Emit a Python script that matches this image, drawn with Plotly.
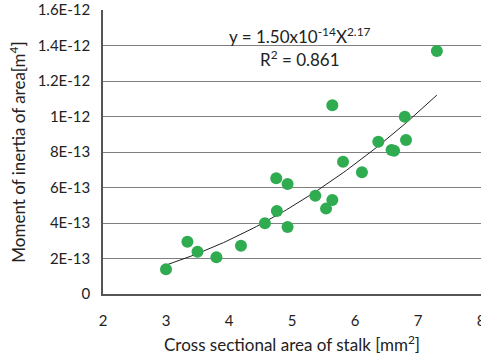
import numpy as np
import plotly.graph_objects as go

# Data
area_mm2 = [3.00, 3.34, 3.50, 3.80, 4.19, 4.57, 4.75, 4.76, 4.93, 4.93,
            5.37, 5.54, 5.64, 5.64, 5.81, 6.11, 6.37, 6.58, 6.62, 6.79, 6.81, 7.30]
inertia_m4 = [1.39e-13, 2.95e-13, 2.38e-13, 2.07e-13, 2.72e-13, 3.98e-13, 6.52e-13,
              4.68e-13, 6.20e-13, 3.77e-13, 5.54e-13, 4.81e-13, 5.30e-13, 10.63e-13,
              7.45e-13, 6.86e-13, 8.58e-13, 8.11e-13, 8.07e-13, 9.99e-13, 8.68e-13, 13.69e-13]

# Power-law fit shown on the chart
fit_coef = 1.50e-14
fit_exp = 2.17
fit_x_start = 3.0
fit_x_end = 7.3

x_ticks = [2, 3, 4, 5, 6, 7, 8]
y_tickvals = [0, 2e-13, 4e-13, 6e-13, 8e-13, 1e-12, 1.2e-12, 1.4e-12, 1.6e-12]
y_ticktext = ["0", "2E-13", "4E-13", "6E-13", "8E-13", "1E-12", "1.2E-12", "1.4E-12", "1.6E-12"]

fx = np.linspace(fit_x_start, fit_x_end, 100)
fy = fit_coef * fx ** fit_exp

font = "Lato, 'Open Sans', sans-serif"

fig = go.Figure()
fig.add_trace(go.Scatter(x=fx, y=fy, mode="lines",
                         line=dict(color="#222222", width=1), showlegend=False,
                         hoverinfo="skip"))
fig.add_trace(go.Scatter(x=area_mm2, y=inertia_m4, mode="markers",
                         marker=dict(color="#2fab50", size=12, line=dict(width=0)),
                         showlegend=False, cliponaxis=False))

fig.add_annotation(x=0.52, y=1.4e-12, xref="paper", yref="y",
                   text="y = 1.50x10<sup>-14</sup>X<sup>2.17</sup>",
                   showarrow=False, font=dict(family=font, size=17, color="#222222"),
                   xanchor="center", yanchor="bottom", yshift=-4)
fig.add_annotation(x=0.52, y=1.4e-12, xref="paper", yref="y",
                   text="R<sup>2</sup> = 0.861",
                   showarrow=False, font=dict(family=font, size=17, color="#222222"),
                   xanchor="center", yanchor="top", yshift=1)

fig.update_layout(
    width=481, height=358,
    margin=dict(l=103, r=0, t=10, b=64),
    paper_bgcolor="white", plot_bgcolor="white",
    font=dict(family=font, size=15, color="#222222"),
    xaxis=dict(range=[2, 8], tickvals=x_ticks, showgrid=False, zeroline=False,
               showline=True, linecolor="#555555", linewidth=1.5, ticks="",
               ticklabelstandoff=12, automargin=False, ticklabeloverflow="allow",
               title=dict(text="Cross sectional area of stalk [mm<sup>2</sup>]",
                          font=dict(size=17), standoff=11)),
    yaxis=dict(range=[0, 1.6e-12], tickvals=y_tickvals, ticktext=y_ticktext,
               showgrid=True, gridcolor="#7f7f7f", gridwidth=1, zeroline=False,
               showline=True, linecolor="#555555", linewidth=1.5, ticks="",
               ticklabelstandoff=8, automargin=False,
               title=dict(text="Moment of inertia of area[m<sup>4</sup>]",
                          font=dict(size=17), standoff=8)),
)

fig.write_html("out.html", config={"displayModeBar": False},
               post_script="document.body.style.margin='0';")
